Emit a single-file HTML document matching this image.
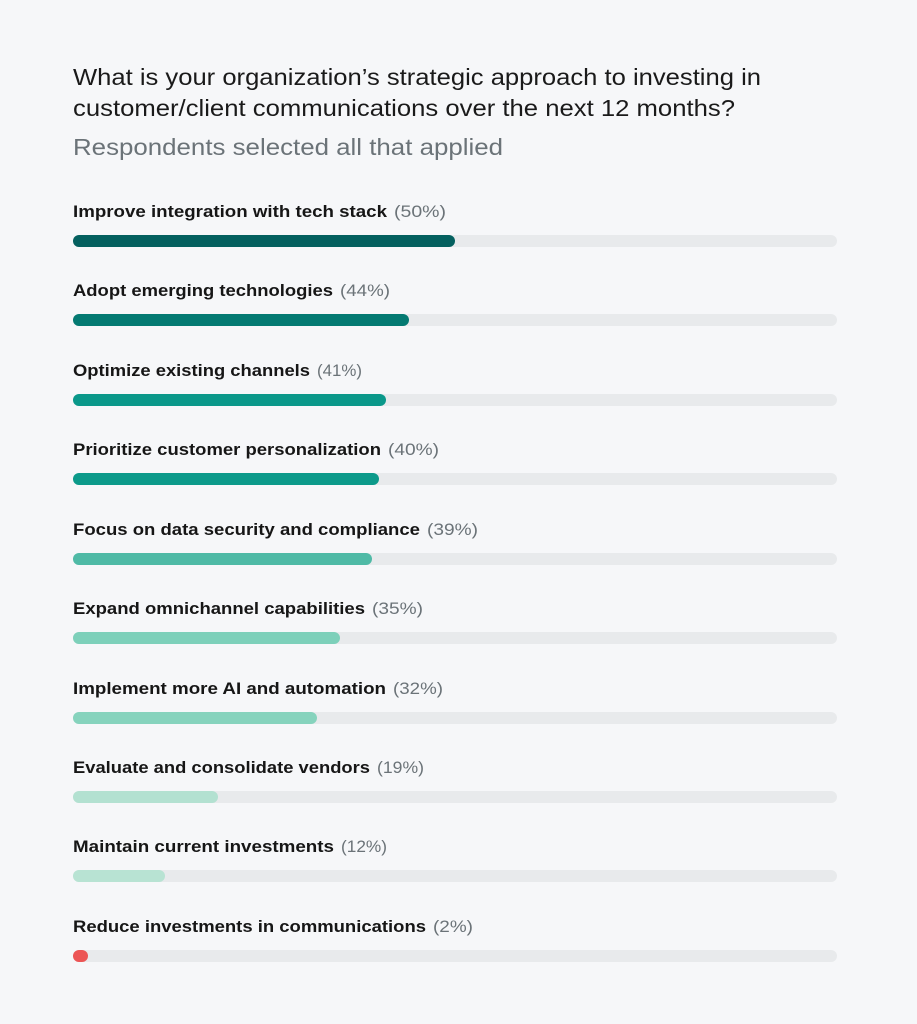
<!DOCTYPE html>
<html><head><meta charset="utf-8"><style>
html,body{margin:0;padding:0;background:#f6f7f9;}
svg{display:block;}
text{font-family:"Liberation Sans",sans-serif;}
.t{font-size:23px;fill:#1a1a1a;}
.s{font-size:23px;fill:#6b7378;}
.l{font-size:17px;font-weight:bold;fill:#161616;}
.p{font-size:17px;fill:#6b7378;}
</style></head><body>
<svg width="917" height="1024" viewBox="0 0 917 1024">
<rect width="917" height="1024" fill="#f6f7f9"/>
<text class="t" x="73" y="85" textLength="688" lengthAdjust="spacingAndGlyphs">What is your organization’s strategic approach to investing in</text>
<text class="t" x="73" y="116" textLength="662" lengthAdjust="spacingAndGlyphs">customer/client communications over the next 12 months?</text>
<text class="s" x="73" y="155" textLength="430" lengthAdjust="spacingAndGlyphs">Respondents selected all that applied</text>

<g>
<text class="l" x="73" y="217" textLength="314" lengthAdjust="spacingAndGlyphs">Improve integration with tech stack</text>
<text class="p" x="394" y="217" textLength="52" lengthAdjust="spacingAndGlyphs">(50%)</text>
<rect x="73" y="235" width="764" height="12" rx="6" fill="#e8eaec"/>
<rect x="73" y="235" width="382" height="12" rx="6" fill="#04605f"/>

<text class="l" x="73" y="296" textLength="260" lengthAdjust="spacingAndGlyphs">Adopt emerging technologies</text>
<text class="p" x="340" y="296" textLength="50" lengthAdjust="spacingAndGlyphs">(44%)</text>
<rect x="73" y="314" width="764" height="12" rx="6" fill="#e8eaec"/>
<rect x="73" y="314" width="336" height="12" rx="6" fill="#047a72"/>

<text class="l" x="73" y="376" textLength="237" lengthAdjust="spacingAndGlyphs">Optimize existing channels</text>
<text class="p" x="317" y="376" textLength="45" lengthAdjust="spacingAndGlyphs">(41%)</text>
<rect x="73" y="394" width="764" height="12" rx="6" fill="#e8eaec"/>
<rect x="73" y="394" width="313" height="12" rx="6" fill="#0a988a"/>

<text class="l" x="73" y="455" textLength="308" lengthAdjust="spacingAndGlyphs">Prioritize customer personalization</text>
<text class="p" x="388" y="455" textLength="51" lengthAdjust="spacingAndGlyphs">(40%)</text>
<rect x="73" y="473" width="764" height="12" rx="6" fill="#e8eaec"/>
<rect x="73" y="473" width="306" height="12" rx="6" fill="#0c9a8a"/>

<text class="l" x="73" y="535" textLength="347" lengthAdjust="spacingAndGlyphs">Focus on data security and compliance</text>
<text class="p" x="427" y="535" textLength="51" lengthAdjust="spacingAndGlyphs">(39%)</text>
<rect x="73" y="553" width="764" height="12" rx="6" fill="#e8eaec"/>
<rect x="73" y="553" width="299" height="12" rx="6" fill="#4fbaa6"/>

<text class="l" x="73" y="614" textLength="292" lengthAdjust="spacingAndGlyphs">Expand omnichannel capabilities</text>
<text class="p" x="372" y="614" textLength="51" lengthAdjust="spacingAndGlyphs">(35%)</text>
<rect x="73" y="632" width="764" height="12" rx="6" fill="#e8eaec"/>
<rect x="73" y="632" width="267" height="12" rx="6" fill="#7dd0ba"/>

<text class="l" x="73" y="694" textLength="313" lengthAdjust="spacingAndGlyphs">Implement more AI and automation</text>
<text class="p" x="393" y="694" textLength="50" lengthAdjust="spacingAndGlyphs">(32%)</text>
<rect x="73" y="712" width="764" height="12" rx="6" fill="#e8eaec"/>
<rect x="73" y="712" width="244" height="12" rx="6" fill="#86d3bd"/>

<text class="l" x="73" y="773" textLength="297" lengthAdjust="spacingAndGlyphs">Evaluate and consolidate vendors</text>
<text class="p" x="377" y="773" textLength="47" lengthAdjust="spacingAndGlyphs">(19%)</text>
<rect x="73" y="791" width="764" height="12" rx="6" fill="#e8eaec"/>
<rect x="73" y="791" width="145" height="12" rx="6" fill="#b3e1d1"/>

<text class="l" x="73" y="852" textLength="261" lengthAdjust="spacingAndGlyphs">Maintain current investments</text>
<text class="p" x="341" y="852" textLength="46" lengthAdjust="spacingAndGlyphs">(12%)</text>
<rect x="73" y="870" width="764" height="12" rx="6" fill="#e8eaec"/>
<rect x="73" y="870" width="92" height="12" rx="6" fill="#b8e3d3"/>

<text class="l" x="73" y="932" textLength="353" lengthAdjust="spacingAndGlyphs">Reduce investments in communications</text>
<text class="p" x="433" y="932" textLength="40" lengthAdjust="spacingAndGlyphs">(2%)</text>
<rect x="73" y="950" width="764" height="12" rx="6" fill="#e8eaec"/>
<rect x="73" y="950" width="15" height="12" rx="6" fill="#ec5555"/>
</g>
</svg>
</body></html>
